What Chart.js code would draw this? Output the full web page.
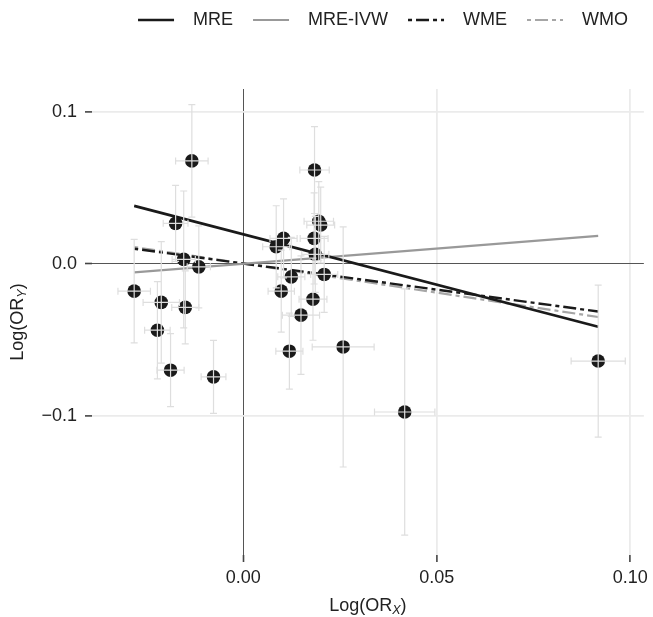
<!DOCTYPE html>
<html>
<head>
    <title>MR scatter</title>
    <script src="https://cdn.jsdelivr.net/npm/chart.js@4.4.1/dist/chart.umd.min.js"></script>
    <style>
        html, body { margin: 0; padding: 0; background: #fff; }
        #wrap { width: 653px; height: 617px; }
    </style>
</head>
<body>
    <div id="wrap"><canvas id="mrChart"></canvas></div>
    <script>
        // SNP estimates: Log(OR_X), Log(OR_Y) and the half widths of the error bars
        var ptX    = [-0.0133, -0.0175, -0.0154, -0.0115, -0.0282, -0.0212, -0.0150, -0.0222, -0.0188, -0.0077,
                      0.0184, 0.0195, 0.0200, 0.0104, 0.0085, 0.0183, 0.0186, 0.0209, 0.0124, 0.0098,
                      0.0180, 0.0149, 0.0119, 0.0258, 0.0417, 0.0917];
        var ptY    = [0.0677, 0.0266, 0.0029, -0.0020, -0.0180, -0.0254, -0.0287, -0.0437, -0.0700, -0.0744,
                      0.0617, 0.0280, 0.0255, 0.0167, 0.0112, 0.0167, 0.0062, -0.0070, -0.0086, -0.0180,
                      -0.0233, -0.0338, -0.0575, -0.0547, -0.0975, -0.0640];
        var ptXErr = [0.0042, 0.0032, 0.0030, 0.0030, 0.0042, 0.0047, 0.0035, 0.0033, 0.0035, 0.0032,
                      0.0038, 0.0038, 0.0036, 0.0035, 0.0035, 0.0036, 0.0035, 0.0035, 0.0035, 0.0034,
                      0.0036, 0.0048, 0.0035, 0.0080, 0.0078, 0.0070];
        var ptYErr = [0.037, 0.025, 0.045, 0.027, 0.034, 0.040, 0.024, 0.032, 0.024, 0.024,
                      0.0286, 0.026, 0.025, 0.026, 0.027, 0.030, 0.025, 0.025, 0.026, 0.027,
                      0.027, 0.039, 0.025, 0.079, 0.081, 0.050];

        // fitted lines (end points)
        var fitNames = ['MRE', 'MRE-IVW', 'WME', 'WMO'];
        var fitX = [-0.0282, 0.0917];
        var mreY = [0.0381, -0.0414];
        var ivwY = [-0.0057, 0.0184];
        var wmeY = [0.0099, -0.0314];
        var wmoY = [0.0110, -0.0350];

        var xTicks = [0, 0.05, 0.10];
        var xTickLabels = ['0.00', '0.05', '0.10'];
        var yTicks = [-0.1, 0, 0.1];
        var yTickLabels = ['\u22120.1', '0.0', '0.1'];

        var FONT = '"Liberation Sans", Arial, sans-serif';

        function pairs(xs, ys) {
            return xs.map(function (x, i) { return { x: x, y: ys[i] }; });
        }

        // error bars on top of everything, drawn through the scales
        var errorBars = {
            id: 'errorBars',
            afterDatasetsDraw: function (chart) {
                var ctx = chart.ctx, sx = chart.scales.x, sy = chart.scales.y, cap = 3.5;
                ctx.save();
                ctx.strokeStyle = '#dedede';
                ctx.lineWidth = 1.2;
                for (var i = 0; i < ptX.length; i++) {
                    var px = sx.getPixelForValue(ptX[i]), py = sy.getPixelForValue(ptY[i]);
                    var y1 = sy.getPixelForValue(ptY[i] + ptYErr[i]), y2 = sy.getPixelForValue(ptY[i] - ptYErr[i]);
                    var x1 = sx.getPixelForValue(ptX[i] - ptXErr[i]), x2 = sx.getPixelForValue(ptX[i] + ptXErr[i]);
                    ctx.beginPath();
                    ctx.moveTo(px, y1); ctx.lineTo(px, y2);
                    ctx.moveTo(px - cap, y1); ctx.lineTo(px + cap, y1);
                    ctx.moveTo(px - cap, y2); ctx.lineTo(px + cap, y2);
                    ctx.moveTo(x1, py); ctx.lineTo(x2, py);
                    ctx.moveTo(x1, py - cap); ctx.lineTo(x1, py + cap);
                    ctx.moveTo(x2, py - cap); ctx.lineTo(x2, py + cap);
                    ctx.stroke();
                }
                ctx.restore();
            }
        };

        function drawSubLabel(ctx, a, sub, b, cx, cy) {
            var main = '18px ' + FONT, small = 'italic 12.5px ' + FONT;
            ctx.font = main;
            var wa = ctx.measureText(a).width, wb = ctx.measureText(b).width;
            ctx.font = small;
            var ws = ctx.measureText(sub).width;
            var x = cx - (wa + ws + wb) / 2;
            ctx.textBaseline = 'middle';
            ctx.textAlign = 'left';
            ctx.font = main; ctx.fillText(a, x, cy); x += wa;
            ctx.font = small; ctx.fillText(sub, x, cy + 5); x += ws;
            ctx.font = main; ctx.fillText(b, x, cy);
        }

        // axis titles with subscripts
        var axisTitles = {
            id: 'axisTitles',
            afterInit: function (chart) {
                var lg = chart.legend;
                var fit = lg.fit.bind(lg);
                lg.fit = function () { fit(); this.height = 98; };
            },
            afterDraw: function (chart) {
                var ctx = chart.ctx, area = chart.chartArea;
                ctx.save();
                ctx.fillStyle = '#222';
                drawSubLabel(ctx, 'Log(OR', 'X', ')', (area.left + area.right) / 2, chart.height - 11);
                ctx.translate(18, (area.top + area.bottom) / 2);
                ctx.rotate(-Math.PI / 2);
                drawSubLabel(ctx, 'Log(OR', 'Y', ')', 0, 0);
                ctx.restore();
            }
        };

        function gridColor(c) { return c.tick && c.tick.value === 0 ? '#555555' : '#ebebeb'; }
        function gridWidth(c) { return c.tick && c.tick.value === 0 ? 1 : 1.8; }

        var ctx = document.getElementById('mrChart').getContext('2d');
        var chart = new Chart(ctx, {
            type: 'scatter',
            data: {
                datasets: [
                    { type: 'line', label: fitNames[0], data: pairs(fitX, mreY), borderColor: '#1a1a1a', backgroundColor: '#1a1a1a', borderWidth: 2.6, pointRadius: 0, order: 1 },
                    { type: 'line', label: fitNames[1], data: pairs(fitX, ivwY), borderColor: '#999999', backgroundColor: '#999999', borderWidth: 2.2, pointRadius: 0, order: 1 },
                    { type: 'line', label: fitNames[2], data: pairs(fitX, wmeY), borderColor: '#1a1a1a', backgroundColor: '#1a1a1a', borderWidth: 2.4, borderDash: [4, 4, 13, 4], pointRadius: 0, order: 1 },
                    { type: 'line', label: fitNames[3], data: pairs(fitX, wmoY), borderColor: '#a6a6a6', backgroundColor: '#a6a6a6', borderWidth: 2.2, borderDash: [4, 4, 13, 4], pointRadius: 0, order: 1 },
                    { label: 'SNP', data: pairs(ptX, ptY), backgroundColor: '#1a1a1a', borderWidth: 0, pointRadius: 6.8, order: 0 }
                ]
            },
            options: {
                responsive: true,
                maintainAspectRatio: false,
                animation: false,
                events: [],
                layout: { padding: { top: -9, right: 5, bottom: 0, left: 0 } },
                plugins: {
                    tooltip: { enabled: false },
                    legend: {
                        position: 'top',
                        align: 'end',
                        labels: {
                            usePointStyle: true,
                            pointStyle: 'line',
                            pointStyleWidth: 36,
                            boxHeight: 18,
                            padding: 20,
                            color: '#222',
                            font: { size: 18, family: FONT },
                            generateLabels: function (chart) {
                                var items = Chart.defaults.plugins.legend.labels.generateLabels(chart);
                                return items.filter(function (it) { return it.datasetIndex < 4; }).map(function (it) {
                                    var ds = chart.data.datasets[it.datasetIndex];
                                    it.lineDash = ds.borderDash || [];
                                    it.lineWidth = ds.borderWidth;
                                    it.strokeStyle = ds.borderColor;
                                    it.text = '  ' + ds.label;
                                    return it;
                                });
                            }
                        }
                    }
                },
                scales: {
                    x: {
                        type: 'linear',
                        min: -0.0391,
                        max: 0.1035,
                        afterBuildTicks: function (s) { s.ticks = xTicks.map(function (v) { return { value: v }; }); },
                        afterFit: function (s) { s.height = 62; },
                        border: { display: false },
                        grid: { color: gridColor, lineWidth: gridWidth, tickColor: '#444', tickWidth: 1.6, tickLength: 7 },
                        ticks: {
                            color: '#222', padding: 5, maxRotation: 0,
                            font: { size: 18, family: FONT },
                            callback: function (v, i) { return xTickLabels[i]; }
                        }
                    },
                    y: {
                        type: 'linear',
                        min: -0.1916,
                        max: 0.115,
                        afterBuildTicks: function (s) { s.ticks = yTicks.map(function (v) { return { value: v }; }); },
                        afterFit: function (s) { s.width = 92; },
                        border: { display: false },
                        grid: { color: gridColor, lineWidth: gridWidth, tickColor: '#444', tickWidth: 1.6, tickLength: 7 },
                        ticks: {
                            color: '#222', padding: 8,
                            font: { size: 18, family: FONT },
                            callback: function (v, i) { return yTickLabels[i]; }
                        }
                    }
                }
            },
            plugins: [errorBars, axisTitles]
        });
    </script>
</body>
</html>
